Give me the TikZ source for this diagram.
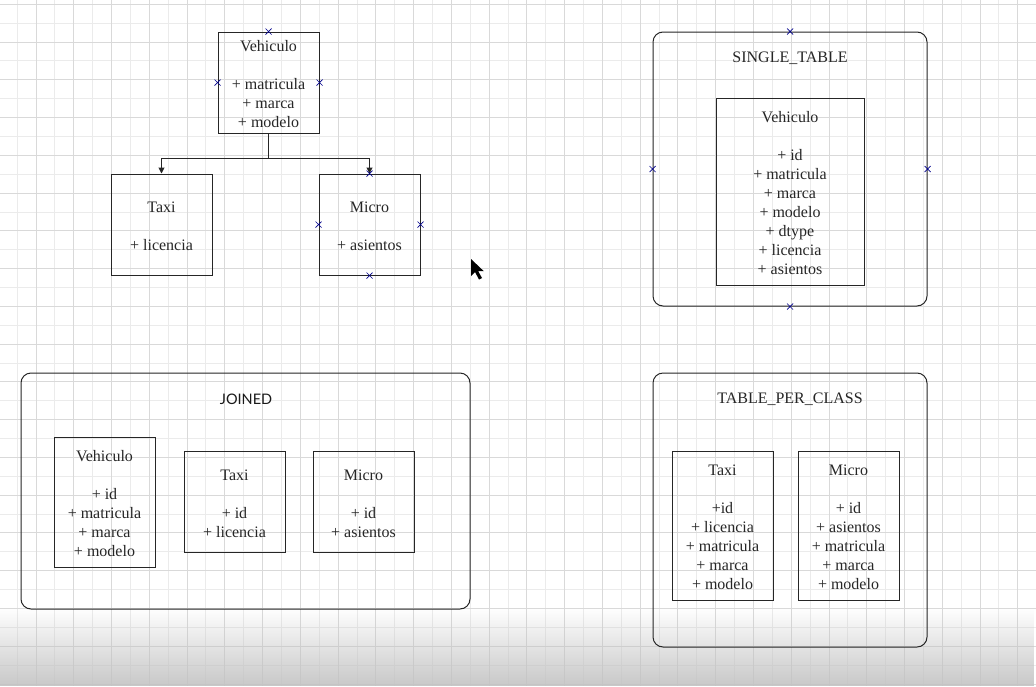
\documentclass[tikz,border=0pt]{standalone}
\usepackage{fontspec}
\setmainfont{Liberation Serif}
\newfontfamily\latofont{Lato}
\usetikzlibrary{arrows.meta,fadings}
\tikzset{
  cls/.style={draw=black!85, line width=1pt, align=center, inner sep=0pt,
    font=\fontsize{16}{19}\selectfont, text=black!85},
  grp/.style={draw=black!85, line width=1pt, rounded corners=10pt, inner sep=0pt},
  ttl/.style={inner sep=0pt, font=\fontsize{16}{19}\selectfont, text=black!85},
  conn/.style={draw=black!85, line width=1pt, -{Triangle[length=6pt,width=6pt]}},
  mk/.style={draw=blue!55!black, line width=0.7pt},
  majorgrid/.style={draw=black!15, line width=0.9pt},
  minorgrid/.style={draw=black!8, line width=0.9pt},
}
\newcommand\cpmark[1]{\draw[mk] (#1) +(-3,-3) -- +(3,3) +(-3,3) -- +(3,-3);}
\newcommand\tp{\rule{0pt}{15pt}}
\begin{document}
\begin{tikzpicture}[x=1pt,y=-1pt]
\useasboundingbox (0,0) rectangle (1036,686);
\fill[white] (0,0) rectangle (1036,686);
% grid
\foreach \k in {0,...,27} {\draw[minorgrid] ({17.12+37.76*\k},0) -- ({17.12+37.76*\k},686);}
\foreach \k in {0,...,17} {\draw[minorgrid] (0,{23.18+37.76*\k}) -- (1036,{23.18+37.76*\k});}
\foreach \k in {0,...,26} {\draw[majorgrid] ({36+37.76*\k},0) -- ({36+37.76*\k},686);}
\foreach \k in {0,...,18} {\draw[majorgrid] (0,{4.3+37.76*\k}) -- (1036,{4.3+37.76*\k});}
% bottom fade
\fill[black!24, path fading=north, fill opacity=0.9] (0,608) rectangle (1036,686);

% inheritance diagram
\node[cls, minimum width=101pt, minimum height=101pt] (veh) at (268.5,82.5)
  {\tp Vehiculo\\[19pt]+ matricula\\+ marca\\+ modelo};
\node[cls, minimum width=101pt, minimum height=101pt] (taxi) at (161.5,224.5)
  {\tp Taxi\\[19pt]+ licencia};
\node[cls, minimum width=101pt, minimum height=101pt] (micro) at (369.5,224.5)
  {\tp Micro\\[19pt]+ asientos};
\draw[conn] (veh.south) -- ++(0,25) -| (taxi.north);
\draw[conn] (veh.south) -- ++(0,25) -| (micro.north);

% SINGLE_TABLE
\node[grp, minimum width=274pt, minimum height=274pt] (single) at (790,169) {};
\node[ttl] (singlet) at (790,58) {SINGLE\_TABLE};
\node[cls, minimum width=148pt, minimum height=187pt] (sveh) at (790,191.5)
  {\tp Vehiculo\\[19pt]+ id\\+ matricula\\+ marca\\+ modelo\\+ dtype\\+ licencia\\+ asientos};

% JOINED
\node[grp, minimum width=449pt, minimum height=236pt] (joined) at (245.5,491) {};
\node[inner sep=0pt, font=\latofont\fontsize{14.5}{17}\selectfont, text=black!90] (joinedt) at (246,399) {JOINED};
\node[cls, minimum width=101pt, minimum height=130pt] (jveh) at (104.5,502)
  {\tp Vehiculo\\[19pt]+ id\\+ matricula\\+ marca\\+ modelo};
\node[cls, minimum width=101pt, minimum height=101pt] (jtaxi) at (234.5,501.5)
  {\tp Taxi\\[19pt]+ id\\+ licencia};
\node[cls, minimum width=101pt, minimum height=101pt] (jmicro) at (363.5,501.5)
  {\tp Micro\\[19pt]+ id\\+ asientos};

% TABLE_PER_CLASS
\node[grp, minimum width=274pt, minimum height=274pt] (tpc) at (790,510) {};
\node[ttl] (tpct) at (790,399) {TABLE\_PER\_CLASS};
\node[cls, minimum width=101pt, minimum height=149pt] (ttaxi) at (722.5,525.5)
  {\tp Taxi\\[19pt]+id\\+ licencia\\+ matricula\\+ marca\\+ modelo};
\node[cls, minimum width=101pt, minimum height=149pt] (tmicro) at (848.5,525.5)
  {\tp Micro\\[19pt]+ id\\+ asientos\\+ matricula\\+ marca\\+ modelo};

% connection point markers
\cpmark{veh.north}\cpmark{veh.west}\cpmark{veh.east}
\cpmark{micro.north}\cpmark{micro.west}\cpmark{micro.east}\cpmark{micro.south}
\cpmark{single.north}\cpmark{single.west}\cpmark{single.east}\cpmark{single.south}

% mouse pointer
\fill[black] (471,259) -- ++(0,17) -- ++(4,-4) -- ++(4,7.5) -- ++(3,-1.5) -- ++(-3.8,-6.8) -- ++(5.6,0) -- cycle;
\end{tikzpicture}
\end{document}
